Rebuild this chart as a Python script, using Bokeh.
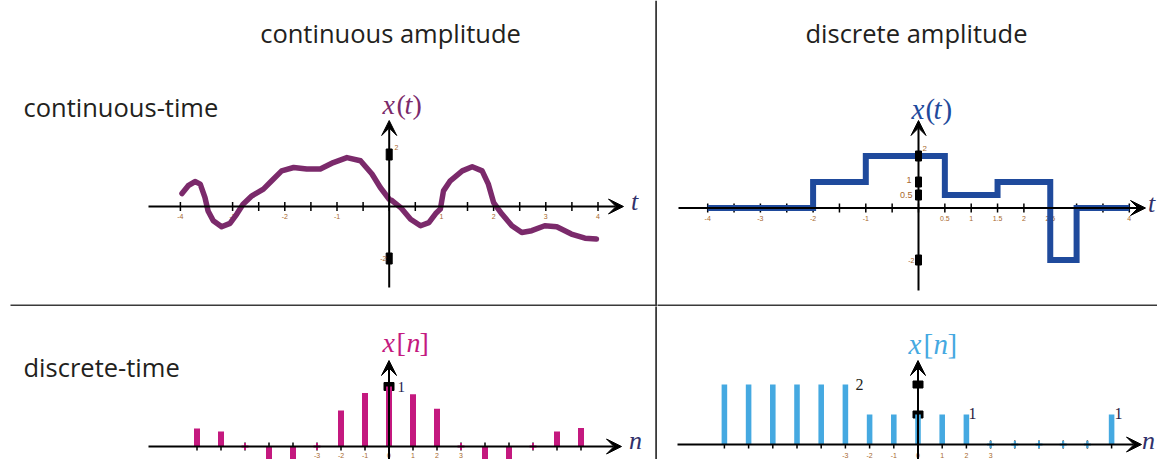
from bokeh.plotting import figure
from bokeh.models import Range1d, Arrow, VeeHead
from bokeh.layouts import column, row
from bokeh.embed import file_html
from bokeh.resources import INLINE
from bokeh.core.properties import value

# ---------------- data ----------------
col_titles = ["continuous amplitude", "discrete amplitude"]
row_titles = ["continuous-time", "discrete-time"]

# continuous-time / continuous amplitude : x(t)
ct_t = [-3.97, -3.85, -3.72, -3.62, -3.53, -3.47, -3.37, -3.21, -3.05, -2.92, -2.80,
        -2.63, -2.41, -2.25, -2.06, -1.83, -1.58, -1.32, -1.07, -0.81, -0.55, -0.33,
        -0.17, 0.0, 0.06, 0.22, 0.41, 0.60, 0.76, 0.89, 0.98, 1.04, 1.17, 1.40, 1.59,
        1.78, 1.90, 2.00, 2.16, 2.35, 2.54, 2.73, 2.98, 3.21, 3.49, 3.75, 3.97]
ct_x = [0.50, 0.80, 0.96, 0.86, 0.35, -0.17, -0.55, -0.78, -0.65, -0.29, 0.09,
        0.41, 0.67, 0.99, 1.37, 1.50, 1.44, 1.44, 1.69, 1.88, 1.76, 1.25,
        0.73, 0.28, 0.22, -0.04, -0.49, -0.74, -0.62, -0.27, -0.10, 0.60, 0.99, 1.37, 1.53,
        1.37, 0.86, 0.15, -0.29, -0.74, -1.00, -0.93, -0.74, -0.78, -1.06, -1.22, -1.25]
ct_ticks = [-4, -3.5, -3, -2.5, -2, -1.5, -1, -0.5, 0, 0.5, 1, 1.5, 2, 2.5, 3, 3.5, 4]
ct_tick_labels = [-4, -3, -2, -1, 1, 2, 3, 4]
ct_y_marks = [2, -2]

# continuous-time / discrete amplitude : quantised x(t)
qt_edges = [-4, -2, -1, 0.5, 1.5, 2.5, 3, 4]
qt_levels = [0, 1, 2, 0.5, 1, -2, 0, 0]
qt_ticks = ct_ticks
qt_tick_labels = [-4, -3, -2, -1, 0.5, 1, 1.5, 2, 2.5, 3, 4]
qt_y_marks = [2, 1, 0.5, -2]

# discrete-time / continuous amplitude : x[n]
n_idx = list(range(-8, 9))
dn_x = [0.3, 0.25, 0, -0.34, -0.38, 0, 0.6, 0.89, 1.0, 0.87, 0.63, 0, -0.34, -0.35, 0, 0.25, 0.31]
# discrete-time / discrete amplitude : quantised x[n]
qn_x = [2, 2, 2, 2, 2, 2, 1, 1, 1, 1, 1, 0, 0, 0, 0, 0, 1]
n_tick_labels = [-3, -2, -1, 0, 1, 2, 3]

# ---------------- style ----------------
TXT = "#231f20"
TICKTXT = "#a8692e"
AXLBL = "#30306a"
C_CURVE = "#7b2a6b"
C_STEP = "#1f4a9c"
C_MAG = "#c4197f"
C_LBLUE = "#45a9e1"
SANS = "Open Sans"
SERIF = "Liberation Serif"
HEAD_SIZE = "25.5px"

X_SPLIT, Y_SPLIT = 657, 306
X_LEFT, Y_TOP, X_RIGHT, Y_BOT = 0, 0, 1157, 459


class Panel:
    def __init__(self, X0, Y0, X1, Y1, px0, sx, py0, sy):
        self.sx, self.sy = sx, sy
        self.fx = lambda px: (px - px0) / sx
        self.fy = lambda py: (py0 - py) / sy
        self.p = figure(width=X1 - X0, height=Y1 - Y0,
                        x_range=Range1d(self.fx(X0), self.fx(X1)),
                        y_range=Range1d(self.fy(Y1), self.fy(Y0)),
                        toolbar_location=None, output_backend="svg",
                        min_border=0, x_axis_type=None, y_axis_type=None)
        self.p.outline_line_color = None
        self.p.background_fill_color = "white"
        self.p.border_fill_color = "white"

    def text(self, px, py, s, font=SANS, size=HEAD_SIZE, color=TXT, align="left",
             style="normal"):
        self.p.text(x=[self.fx(px)], y=[self.fy(py)], text=[s],
                    text_font=value(font), text_font_size=value(size),
                    text_color=color, text_align=align, text_baseline="middle",
                    text_font_style=style)

    def math_label(self, parts, py, color, size="28px"):
        # parts: (left px, string, italic?)
        for px, s, it in parts:
            self.text(px, py, s, font=SERIF, size=size, color=color,
                      style="italic" if it else "normal")

    def hline(self, px0, px1, py, w=2, color="#3a3a3a"):
        self.p.segment(x0=[self.fx(px0)], y0=[self.fy(py)], x1=[self.fx(px1)],
                       y1=[self.fy(py)], line_width=w, line_color=color)

    def vline(self, px, py0, py1, w=2, color="#3a3a3a"):
        self.p.segment(x0=[self.fx(px)], y0=[self.fy(py0)], x1=[self.fx(px)],
                       y1=[self.fy(py1)], line_width=w, line_color=color)

    def axes(self, xstart_px, xtip_px, ytop_px, ybot_px):
        head = dict(size=15, fill_color="black", line_color="black", line_width=1)
        self.p.add_layout(Arrow(end=VeeHead(**head), x_start=self.fx(xstart_px), y_start=0,
                                x_end=self.fx(xtip_px), y_end=0,
                                line_width=2, line_color="black"))
        self.p.add_layout(Arrow(end=VeeHead(**head), x_start=0, y_start=self.fy(ybot_px),
                                x_end=0, y_end=self.fy(ytop_px),
                                line_width=2, line_color="black"))

    def ticks(self, xs, half_px=4.5):
        h = half_px / self.sy
        self.p.segment(x0=xs, y0=[-h] * len(xs), x1=xs, y1=[h] * len(xs),
                       line_width=1.5, line_color="black")

    def tick_labels(self, xs, py, size="7px"):
        labels = [("%g" % v) for v in xs]
        self.p.text(x=xs, y=[self.fy(py)] * len(xs), text=labels,
                    text_font=value("Liberation Sans"), text_font_size=value(size),
                    text_color=TICKTXT, text_align="center", text_baseline="middle")

    def ymarks(self, ys, wpx, hpx, fill="black"):
        self.p.rect(x=[0] * len(ys), y=ys, width=wpx / self.sx, height=hpx / self.sy,
                    fill_color=fill, line_color="black", line_width=1)


# ---------------- top-left: continuous time, continuous amplitude ----------------
tl = Panel(X_LEFT, Y_TOP, X_SPLIT, Y_SPLIT, 388.7, 52.2, 206, 26)
tl.text(390, 32, col_titles[0], align="center")
tl.text(23, 106, row_titles[0])
tl.vline(655.7, 0, 320)
tl.hline(10, 700, 305)
tl.axes(148, 623, 120, 287)
tl.ticks(ct_ticks)
tl.tick_labels(ct_tick_labels, 216)
tl.ymarks(ct_y_marks, 6, 11)
tl.text(394, 147, "2", font="Liberation Sans", size="7px", color=TICKTXT)
tl.text(386, 258, "-2", font="Liberation Sans", size="7px", color=TICKTXT, align="right")
tl.p.line(ct_t, ct_x, line_width=5.5, line_color=C_CURVE, line_join="round", line_cap="round")
tl.math_label([(382, "x", True), (396, "(", False), (404, "t", True), (412, ")", False)],
              104, C_CURVE)
tl.text(634, 201, "t", font=SERIF, size="26px", color=AXLBL, align="center", style="italic")

# ---------------- top-right: continuous time, discrete amplitude ----------------
tr = Panel(X_SPLIT, Y_TOP, X_RIGHT, Y_SPLIT, 918, 52.7, 207.5, 26)
tr.text(916, 32, col_titles[1], align="center")
tr.hline(600, 1200, 305)
tr.axes(678, 1145, 120, 290)
tr.ticks(qt_ticks)
tr.tick_labels(qt_tick_labels, 218)
tr.p.step(qt_edges, qt_levels, mode="after", line_width=6, line_color=C_STEP, line_join="miter")
tr.ymarks(qt_y_marks, 6, 10)
tr.text(922, 148, "2", font="Liberation Sans", size="8px", color=TICKTXT)
tr.text(911, 179, "1", font="Liberation Sans", size="9px", color=TICKTXT, align="right")
tr.text(912, 194, "0.5", font="Liberation Sans", size="9px", color=TICKTXT, align="right")
tr.text(914, 260, "-2", font="Liberation Sans", size="7px", color=TICKTXT, align="right")
tr.math_label([(911, "x", True), (925, "(", False), (933, "t", True), (942, ")", False)],
              108, C_STEP, size="29px")
tr.text(1151, 203, "t", font=SERIF, size="26px", color=AXLBL, align="center", style="italic")

# ---------------- bottom-left: discrete time, continuous amplitude ----------------
bl = Panel(X_LEFT, Y_SPLIT, X_SPLIT, Y_BOT, 388.5, 24, 446, 60)
bl.text(23, 366, row_titles[1])
bl.vline(655.7, 290, 480)
bl.axes(148, 621, 360, 472)
bl.ticks(n_idx, 4)
bl.tick_labels(n_tick_labels, 455)
bl.ymarks([1], 10, 8)
bl.p.vbar(x=n_idx, top=dn_x, bottom=0, width=0.25, fill_color=C_MAG, line_color=None)
bl.p.scatter(x=[n for n, v in zip(n_idx, dn_x) if v == 0], y=0, marker="cross", size=7,
             line_color=C_MAG, line_width=2)
bl.text(397, 386, "1", font=SERIF, size="15px", color="#1c2050")
bl.math_label([(382, "x", True), (396, "[", False), (406, "n", True), (419, "]", False)],
              342, C_MAG)
bl.text(635, 440, "n", font=SERIF, size="26px", color=AXLBL, align="center", style="italic")

# ---------------- bottom-right: discrete time, discrete amplitude ----------------
br = Panel(X_SPLIT, Y_SPLIT, X_RIGHT, Y_BOT, 917.5, 24.2, 444, 30)
br.axes(677, 1141, 360, 470)
br.ticks(n_idx, 4)
br.tick_labels(n_tick_labels, 455)
br.ymarks([2, 1], 10, 7)
br.p.vbar(x=n_idx, top=qn_x, bottom=0, width=0.23, fill_color=C_LBLUE, line_color=None)
br.p.scatter(x=[n for n, v in zip(n_idx, qn_x) if v == 0], y=0, marker="cross", size=7,
             line_color=C_LBLUE, line_width=2)
br.text(855, 384, "2", font=SERIF, size="16px", color=TXT)
br.text(968, 413, "1", font=SERIF, size="16px", color="#2a1c40")
br.text(1114, 413, "1", font=SERIF, size="16px", color="#2a1c40")
br.math_label([(908, "x", True), (923, "[", False), (933, "n", True), (947, "]", False)],
              343, C_LBLUE, size="29px")
br.text(1148, 440, "n", font=SERIF, size="26px", color=AXLBL, align="center", style="italic")

layout = column(row(tl.p, tr.p, spacing=0), row(bl.p, br.p, spacing=0), spacing=0)
open("out.html", "w").write(file_html(layout, INLINE))
